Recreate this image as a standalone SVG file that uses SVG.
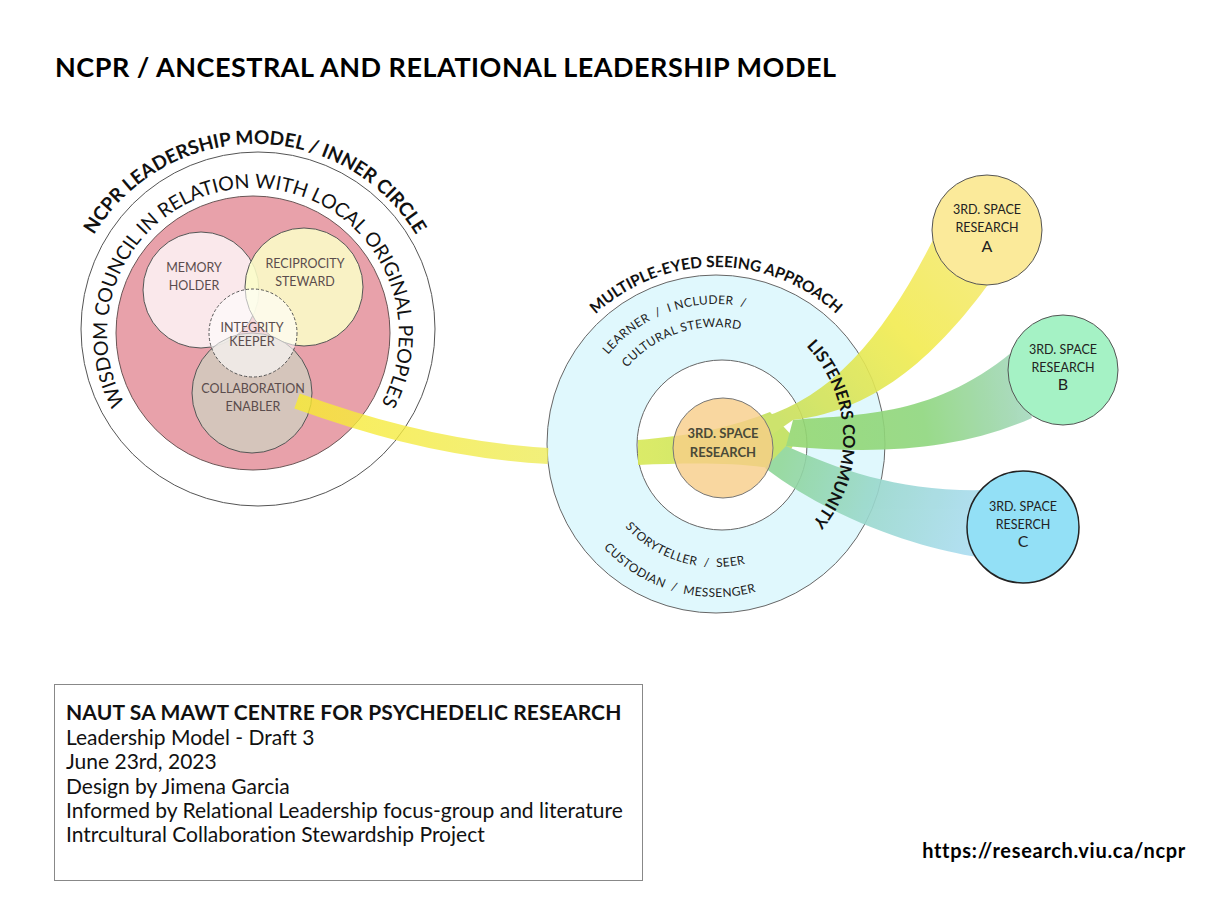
<svg xmlns="http://www.w3.org/2000/svg" width="1224" height="916" viewBox="0 0 1224 916">
<style>
text{font-family:Lato,"Noto Sans","Liberation Sans",sans-serif;font-variant-ligatures:none;font-feature-settings:"liga" 0,"dlig" 0}
.title{font-size:27px;font-weight:700;fill:#000;letter-spacing:0.5px}
.ring{stroke:#555;stroke-width:1}
.lbl{font-size:12.5px;fill:#5a4c4c;text-anchor:middle}
.bold{font-weight:700;fill:#111}
.role{font-size:12px;fill:#222;letter-spacing:0.4px}
.sp{font-size:12.5px;fill:#222;text-anchor:middle}
.big{font-size:16px}
.info{font-size:21px;fill:#111}
</style>
<defs>
<path id="pOuterL" d="M255 520 A188 188 0 0 1 255 144 A188 188 0 0 1 255 520"/>
<path id="pInnerL" d="M253 480 A146 146 0 0 1 253 188 A146 146 0 0 1 253 480"/>
<path id="pMulti" d="M539 444 A177 177 0 0 1 893 444"/>
<path id="pLearn" d="M576 444 A140 140 0 0 1 856 444"/>
<path id="pCult" d="M599 444 A117 117 0 0 1 833 444"/>
<path id="pStory" d="M593 444 A123 123 0 0 0 839 444"/>
<path id="pCust" d="M563 444 A153 153 0 0 0 869 444"/>
<path id="pListen" d="M710 305 A133 133 0 0 1 710 571"/>
<linearGradient id="gLeft" gradientUnits="userSpaceOnUse" x1="297" y1="0" x2="548" y2="0">
<stop offset="0" stop-color="#f9ea30"/><stop offset="1" stop-color="#eeec5a"/>
</linearGradient>
<linearGradient id="gTrunk" gradientUnits="userSpaceOnUse" x1="638" y1="0" x2="790" y2="0">
<stop offset="0" stop-color="#d8e958"/><stop offset="1" stop-color="#bfe05c"/>
</linearGradient>
<linearGradient id="gA" gradientUnits="userSpaceOnUse" x1="780" y1="420" x2="960" y2="250">
<stop offset="0" stop-color="#c8e05e"/><stop offset="0.6" stop-color="#f2ec50"/><stop offset="1" stop-color="#f4ea70"/>
</linearGradient>
<linearGradient id="gB" gradientUnits="userSpaceOnUse" x1="790" y1="430" x2="1030" y2="390">
<stop offset="0" stop-color="#95d872"/><stop offset="0.55" stop-color="#8fd67e"/><stop offset="1" stop-color="#a4d8bf"/>
</linearGradient>
<linearGradient id="gC" gradientUnits="userSpaceOnUse" x1="780" y1="460" x2="980" y2="525">
<stop offset="0" stop-color="#8fd698"/><stop offset="0.5" stop-color="#9ad8cf"/><stop offset="1" stop-color="#aadcf1"/>
</linearGradient>
</defs>
<rect width="1224" height="916" fill="#fff"/>

<text class="title" x="55" y="77">NCPR / ANCESTRAL AND RELATIONAL LEADERSHIP MODEL</text>

<g id="inner-circle">
<circle cx="258" cy="329" r="177" fill="#fff" class="ring"/>
<text class="bold" font-size="19"><textPath href="#pOuterL" startOffset="50%" text-anchor="middle">NCPR LEADERSHIP MODEL / INNER CIRCLE</textPath></text>
<text fill="#111" font-size="19.5"><textPath href="#pInnerL" startOffset="50%" text-anchor="middle">WISDOM COUNCIL IN RELATION WITH LOCAL ORIGINAL PEOPLES</textPath></text>
</g>
<g id="wisdom-council">
<circle cx="253" cy="333" r="137" fill="#e8a1aa" stroke="#6a5555" stroke-width="1"/>
</g>
<g id="memory-holder">
<circle cx="201" cy="290" r="58" fill="#fff" fill-opacity="0.76" stroke="#555" stroke-width="1"/>
<text class="lbl" x="194" y="272">MEMORY</text>
<text class="lbl" x="194" y="290">HOLDER</text>
</g>
<g id="reciprocity-steward">
<circle cx="304" cy="287" r="59" fill="#fafdc8" fill-opacity="0.88" stroke="#555" stroke-width="1"/>
<text class="lbl" x="305" y="268">RECIPROCITY</text>
<text class="lbl" x="305" y="286">STEWARD</text>
</g>
<g id="collaboration-enabler">
<circle cx="252" cy="393" r="60" fill="#d2cbbe" fill-opacity="0.86" stroke="#555" stroke-width="1"/>
<text class="lbl" x="253" y="393">COLLABORATION</text>
<text class="lbl" x="253" y="411">ENABLER</text>
</g>
<g id="integrity-keeper">
<circle cx="253" cy="333" r="44" fill="#fff" fill-opacity="0.6" stroke="#555" stroke-width="1" stroke-dasharray="3 2"/>
<text class="lbl" x="252" y="332">INTEGRITY</text>
<text class="lbl" x="252" y="346">KEEPER</text>
</g>

<g id="listeners-community">
<circle cx="716" cy="444" r="169" fill="#e0f8fd" stroke="#666" stroke-width="1"/>
<text class="bold" font-size="15.5"><textPath href="#pMulti" startOffset="50%" text-anchor="middle">MULTIPLE-EYED SEEING APPROACH</textPath></text>
<text class="role" xml:space="preserve"><textPath href="#pLearn" startOffset="39.4%" text-anchor="middle">LEARNER  /  I NCLUDER  /</textPath></text>
<text class="role"><textPath href="#pCult" startOffset="39.7%" text-anchor="middle">CULTURAL STEWARD</textPath></text>
<text class="role" xml:space="preserve"><textPath href="#pStory" startOffset="40.6%" text-anchor="middle">STORYTELLER  /  SEER</textPath></text>
<text class="role" xml:space="preserve"><textPath href="#pCust" startOffset="41.1%" text-anchor="middle">CUSTODIAN  /  MESSENGER</textPath></text>
</g>
<g id="inner-ring">
<circle cx="722" cy="445" r="85" fill="#fff" stroke="#666" stroke-width="1"/>
</g>

<g id="connectors">
<path d="M297 401 C350 420 440 450 548 456" fill="none" stroke="url(#gLeft)" stroke-width="16" opacity="0.8"/>
<g opacity="0.9">
<path d="M638 440 C690 436 730 428 770 412 L796 440 L780 470 C740 462 690 463 638 465 Z" fill="url(#gTrunk)"/>
<path d="M752 420 C830 402 885 335 934 238 L990 282 C940 350 880 410 793 420 L770 436 Z" fill="url(#gA)"/>
<path d="M793 420 C850 414 930 420 1012 352 L1032 418 C960 450 880 455 786 446 Z" fill="url(#gB)"/>
<path d="M786 446 C840 470 900 492 985 490 L985 560 L978 557 C930 550 840 525 765 468 Z" fill="url(#gC)"/>
</g>
</g>

<g id="listeners-label">
<text class="bold" font-size="16.5"><textPath href="#pListen" startOffset="48.9%" text-anchor="middle">LISTENERS COMMUNITY</textPath></text>
</g>

<g id="third-space-center">
<circle cx="723" cy="448" r="50" fill="#f7cd88" fill-opacity="0.8" stroke="#777" stroke-width="1"/>
<text x="723" y="438" font-size="13" font-weight="700" fill="#4a4a38" text-anchor="middle">3RD. SPACE</text>
<text x="723" y="457" font-size="13" font-weight="700" fill="#4a4a38" text-anchor="middle">RESEARCH</text>
</g>

<g id="research-a">
<circle cx="987" cy="230" r="55" fill="#fbea9a" stroke="#555" stroke-width="1"/>
<text class="sp" x="987" y="214">3RD. SPACE</text>
<text class="sp" x="987" y="232">RESEARCH</text>
<text class="sp big" x="987" y="252">A</text>
</g>
<g id="research-b">
<circle cx="1063" cy="370" r="55" fill="#a5f2c5" stroke="#555" stroke-width="1"/>
<text class="sp" x="1063" y="354">3RD. SPACE</text>
<text class="sp" x="1063" y="372">RESEARCH</text>
<text class="sp big" x="1063" y="390">B</text>
</g>
<g id="research-c">
<circle cx="1023" cy="527" r="56" fill="#93e0f6" stroke="#222" stroke-width="1.5"/>
<text class="sp" x="1023" y="511">3RD. SPACE</text>
<text class="sp" x="1023" y="529">RESERCH</text>
<text class="sp big" x="1023" y="547">C</text>
</g>

<g id="info-box">
<rect x="54.5" y="684.5" width="588" height="196" fill="none" stroke="#888" stroke-width="1"/>
<text class="info" x="66" y="720" font-weight="700" letter-spacing="0.15">NAUT SA MAWT CENTRE FOR PSYCHEDELIC RESEARCH</text>
<text class="info" x="66" y="745">Leadership Model - Draft 3</text>
<text class="info" x="66" y="769">June 23rd, 2023</text>
<text class="info" x="66" y="794">Design by Jimena Garcia</text>
<text class="info" x="66" y="818">Informed by Relational Leadership focus-group and literature</text>
<text class="info" x="66" y="842">Intrcultural Collaboration Stewardship Project</text>
</g>

<text x="1186" y="858" font-size="20" font-weight="700" fill="#000" text-anchor="end" letter-spacing="0.7">https://research.viu.ca/ncpr</text>
</svg>
